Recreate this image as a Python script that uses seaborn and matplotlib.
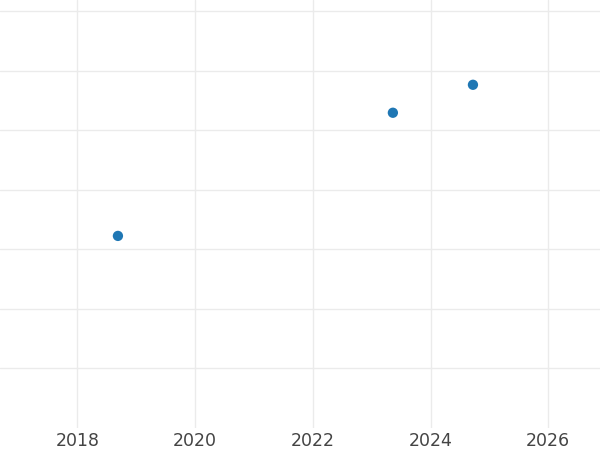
import matplotlib
matplotlib.use("Agg")
import matplotlib.pyplot as plt
import pandas as pd
import seaborn as sns

# ── Data ──────────────────────────────────────────────────────────────────────

years  = [2018.69, 2023.36, 2024.72]
values = [3.22, 5.29, 5.76]

x_ticks = [2018, 2020, 2022, 2024, 2026]
y_ticks = [1, 2, 3, 4, 5, 6, 7]

df = pd.DataFrame({"year": years, "value": values})

# ── Plot ──────────────────────────────────────────────────────────────────────

sns.set_theme(style="whitegrid")
plt.rcParams["font.family"] = ["DejaVu Sans"]

fig = plt.figure(figsize=(6, 4.5), dpi=100)
ax = fig.add_axes([0, 0.05, 1, 0.95])

sns.scatterplot(data=df, x="year", y="value", ax=ax, color="#1f77b4",
                s=55, edgecolor="none", zorder=3)

ax.set_xlim(2016.687, 2026.878)
ax.set_ylim(0, 7.185)
ax.set_xticks(x_ticks)
ax.set_yticks(y_ticks)
ax.set_xticklabels([str(t) for t in x_ticks], fontsize=12.5, color="#444444")
ax.set_yticklabels([])
ax.tick_params(axis="both", length=0, pad=3)
ax.grid(True, color="#ebebeb", linewidth=1.0)
ax.set_xlabel("")
ax.set_ylabel("")
for s in ax.spines.values():
    s.set_visible(False)

fig.savefig("out.png", dpi=100)
